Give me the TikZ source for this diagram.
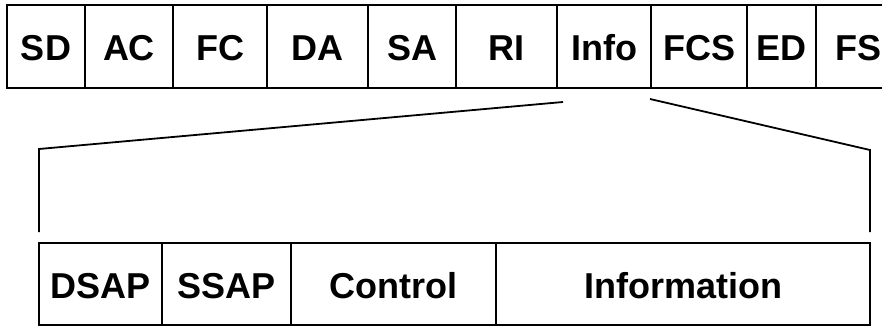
\documentclass[tikz,border=0pt]{standalone}
\usepackage{fontspec}
\setmainfont{Liberation Sans}
\usetikzlibrary{positioning}
\tikzset{field/.style = {draw, rectangle, line width=1.8pt, inner sep=0pt, outer sep=0pt, text height=29pt, text depth=0pt, font=\bfseries\fontsize{36}{36}\selectfont}}
\tikzset{top/.style = {field, minimum height=83pt}}
\tikzset{sub/.style = {field, minimum height=82pt}}
\tikzset{fan/.style = {line width=1.8pt}}

\begin{document}
\begin{tikzpicture}[x=1pt, y=-1pt, node distance=0pt]
  \useasboundingbox (0,0) rectangle (882,326);
  % token ring frame
  \node [top, minimum width=78pt] (sd) at (46,46.5) {SD};
  \node [top, minimum width=88pt, right=of sd] (ac) {AC};
  \node [top, minimum width=94pt, right=of ac] (fc) {FC};
  \node [top, minimum width=101pt, right=of fc] (da) {DA};
  \node [top, minimum width=88pt, right=of da] (sa) {SA};
  \node [top, minimum width=101pt, right=of sa] (ri) {RI};
  \node [top, minimum width=94pt, right=of ri] (info) {Info};
  \node [top, minimum width=96pt, right=of info] (fcs) {FCS};
  \node [top, minimum width=69pt, right=of fcs] (ed) {ED};
  \node [top, minimum width=84pt, right=of ed] (fs) {FS};

  % LLC part of the info field
  \node [sub, minimum width=123pt] (dsap) at (100.5,284) {DSAP};
  \node [sub, minimum width=129pt, right=of dsap] (ssap) {SSAP};
  \node [sub, minimum width=205pt, right=of ssap] (control) {Control};
  \node [sub, minimum width=374pt, right=of control] (information) {Information};

  \coordinate (l0) at (563,102);
  \coordinate (l1) at (39,149);
  \coordinate (l2) at (39,232);
  \coordinate (r0) at (650,99);
  \coordinate (r1) at (870,150);
  \coordinate (r2) at (870,232);
  \draw [fan] (l0) -- (l1) -- (l2);
  \draw [fan] (r0) -- (r1) -- (r2);
\end{tikzpicture}
\end{document}
